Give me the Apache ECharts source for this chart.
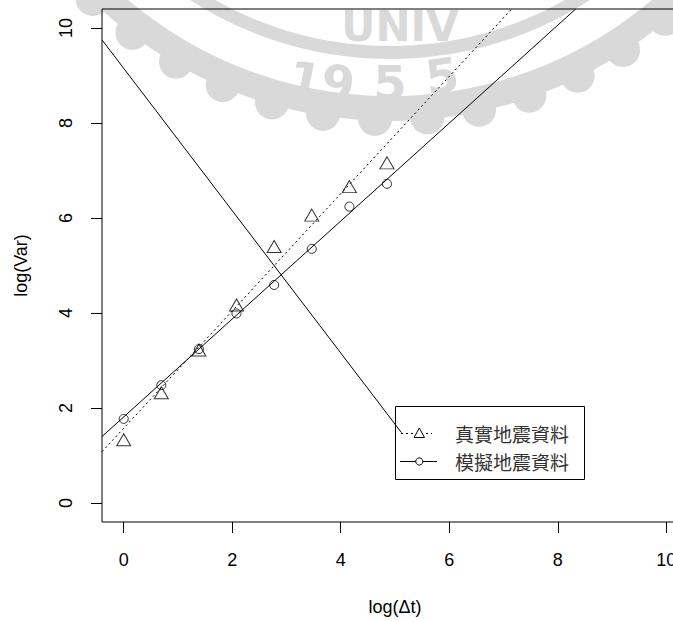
<!DOCTYPE html>
<html>
<head>
<meta charset="utf-8">
<script src="https://cdn.jsdelivr.net/npm/echarts@6/dist/echarts.min.js"></script>
<style>
  html, body { margin: 0; padding: 0; background: #ffffff; }
  #chart { width: 673px; height: 621px; }
</style>
</head>
<body>
<div id="chart"></div>
<script>
// ---- data ----
const logDt   = [0, 0.693, 1.386, 2.079, 2.773, 3.466, 4.159, 4.852];
const realVar = [1.33, 2.32, 3.22, 4.17, 5.40, 6.06, 6.66, 7.16];   // 真實地震資料 (triangles)
const simVar  = [1.77, 2.48, 3.24, 3.99, 4.59, 5.35, 6.24, 6.72];   // 模擬地震資料 (circles)

// fitted lines (endpoints read at the plot edges)
const realFitX = [-0.4, 7.15];
const realFitY = [1.08, 10.4];
const simFitX  = [-0.4, 8.33];
const simFitY  = [1.40, 10.4];
// descending line toward the legend
const crossX = [-0.4, 5.12];
const crossY = [9.75, 1.48];

const xTicks = [0, 2, 4, 6, 8, 10];
const yTicks = [0, 2, 4, 6, 8, 10];
const legendNames = ['真實地震資料', '模擬地震資料'];
const xTitle = 'log(Δt)';
const yTitle = 'log(Var)';

function pairs(xs, ys) { return xs.map((x, i) => [x, ys[i]]); }

const chart = echarts.init(document.getElementById('chart'), null, { renderer: 'svg' });

const WM = '#d9d9d9';
const axisFont = 'Liberation Sans, Arial, sans-serif';
const cjkFont = '"Noto Sans CJK TC", "Noto Sans CJK SC", sans-serif';

// decorative watermark (background seal) – not data
const WM_C = [390, -309];
const wmLobes = [];
for (let a = -44; a <= 44; a += 7) {
  const t = a * Math.PI / 180;
  wmLobes.push({ type: 'circle', z: -10, silent: true,
    shape: { cx: WM_C[0] + 428 * Math.sin(t), cy: WM_C[1] + 428 * Math.cos(t), r: 17 },
    style: { fill: WM } });
}

const option = {
  animation: false,
  backgroundColor: '#ffffff',
  grid: {
    left: 102, top: 9, width: 586, height: 513,
    outerBoundsMode: 'none', containLabel: false,
    show: true, borderColor: '#000', borderWidth: 1, backgroundColor: 'transparent'
  },
  xAxis: {
    type: 'value', min: -0.4, max: 10.4,
    name: xTitle, nameLocation: 'middle', nameGap: 76,
    nameTextStyle: { fontSize: 18, color: '#000', fontFamily: axisFont },
    axisLine: { show: false, onZero: false },
    axisTick: { show: true, inside: false, length: 11, customValues: xTicks, lineStyle: { color: '#000', width: 1 } },
    axisLabel: { show: true, customValues: xTicks, fontSize: 18, color: '#000', fontFamily: axisFont, margin: 29 },
    splitLine: { show: false }
  },
  yAxis: {
    type: 'value', min: -0.4, max: 10.4,
    name: yTitle, nameLocation: 'middle', nameGap: 72, nameRotate: 90,
    nameTextStyle: { fontSize: 18, color: '#000', fontFamily: axisFont },
    axisLine: { show: false, onZero: false },
    axisTick: { show: true, inside: false, length: 11, customValues: yTicks, lineStyle: { color: '#000', width: 1 } },
    axisLabel: { show: true, customValues: yTicks, rotate: 90, fontSize: 18, color: '#000', fontFamily: axisFont, margin: 27 },
    splitLine: { show: false }
  },
  series: [
    {
      name: legendNames[0] + ' fit', type: 'line', data: pairs(realFitX, realFitY),
      showSymbol: false, symbol: 'none', clip: true, silent: true,
      lineStyle: { color: '#000', width: 1, type: [2, 3] }, z: 3
    },
    {
      name: legendNames[1] + ' fit', type: 'line', data: pairs(simFitX, simFitY),
      showSymbol: false, symbol: 'none', clip: true, silent: true,
      lineStyle: { color: '#000', width: 1, type: 'solid' }, z: 3
    },
    {
      name: 'cross', type: 'line', data: pairs(crossX, crossY),
      showSymbol: false, symbol: 'none', clip: true, silent: true,
      lineStyle: { color: '#000', width: 1, type: 'solid' }, z: 3
    },
    {
      name: legendNames[0], type: 'scatter', data: pairs(logDt, realVar),
      symbol: 'triangle', symbolSize: [14, 12], silent: true,
      itemStyle: { color: 'transparent', borderColor: '#000', borderWidth: 1 }, z: 4
    },
    {
      name: legendNames[1], type: 'scatter', data: pairs(logDt, simVar),
      symbol: 'circle', symbolSize: 9, silent: true,
      itemStyle: { color: 'transparent', borderColor: '#000', borderWidth: 1 }, z: 4
    }
  ],
  graphic: [
    // faint background watermark (seal)
    { type: 'ring', z: -10, silent: true, shape: { cx: WM_C[0], cy: WM_C[1], r: 430, r0: 405 }, style: { fill: WM } },
    ...wmLobes,
    { type: 'ring', z: -10, silent: true, shape: { cx: WM_C[0], cy: WM_C[1], r: 368, r0: 355 }, style: { fill: WM } },
    { type: 'text', z: -10, silent: true, x: 400, y: 26, style: { text: 'UNIV', fill: WM, font: 'bold 42px "DejaVu Sans"', align: 'center', verticalAlign: 'middle', letterSpacing: 9 } },
    { type: 'text', z: -10, silent: true, x: 305, y: 80, rotation: -0.2, style: { text: '1', fill: WM, font: 'bold 48px "DejaVu Sans"', align: 'center', verticalAlign: 'middle' } },
    { type: 'text', z: -10, silent: true, x: 338, y: 83, rotation: -0.12, style: { text: '9', fill: WM, font: 'bold 48px "DejaVu Sans"', align: 'center', verticalAlign: 'middle' } },
    { type: 'text', z: -10, silent: true, x: 390, y: 83, rotation: 0.0, style: { text: '5', fill: WM, font: 'bold 48px "DejaVu Sans"', align: 'center', verticalAlign: 'middle' } },
    { type: 'text', z: -10, silent: true, x: 442, y: 76, rotation: 0.13, style: { text: '5', fill: WM, font: 'bold 48px "DejaVu Sans"', align: 'center', verticalAlign: 'middle' } },

    // legend box
    { type: 'rect', z: 100, silent: true, shape: { x: 395.5, y: 406.5, width: 189, height: 73 }, style: { fill: 'none', stroke: '#000', lineWidth: 1 } },
    { type: 'line', z: 100, silent: true, shape: { x1: 401, y1: 433.5, x2: 432, y2: 433.5 }, style: { stroke: '#000', lineWidth: 1, lineDash: [2, 3] } },
    { type: 'polygon', z: 101, silent: true, shape: { points: [[419.3, 428], [424.5, 437.5], [414.1, 437.5]] }, style: { fill: '#fff', stroke: '#000', lineWidth: 1 } },
    { type: 'line', z: 100, silent: true, shape: { x1: 400, y1: 461.5, x2: 437, y2: 461.5 }, style: { stroke: '#000', lineWidth: 1 } },
    { type: 'circle', z: 101, silent: true, shape: { cx: 419.3, cy: 461.5, r: 3.6 }, style: { fill: '#fff', stroke: '#000', lineWidth: 1 } },
    { type: 'text', z: 100, silent: true, x: 455, y: 433.5, style: { text: legendNames[0], fill: '#333', font: '19px ' + cjkFont, verticalAlign: 'middle', align: 'left' } },
    { type: 'text', z: 100, silent: true, x: 455, y: 461.5, style: { text: legendNames[1], fill: '#333', font: '19px ' + cjkFont, verticalAlign: 'middle', align: 'left' } }
  ]
};
chart.setOption(option);
</script>
</body>
</html>
